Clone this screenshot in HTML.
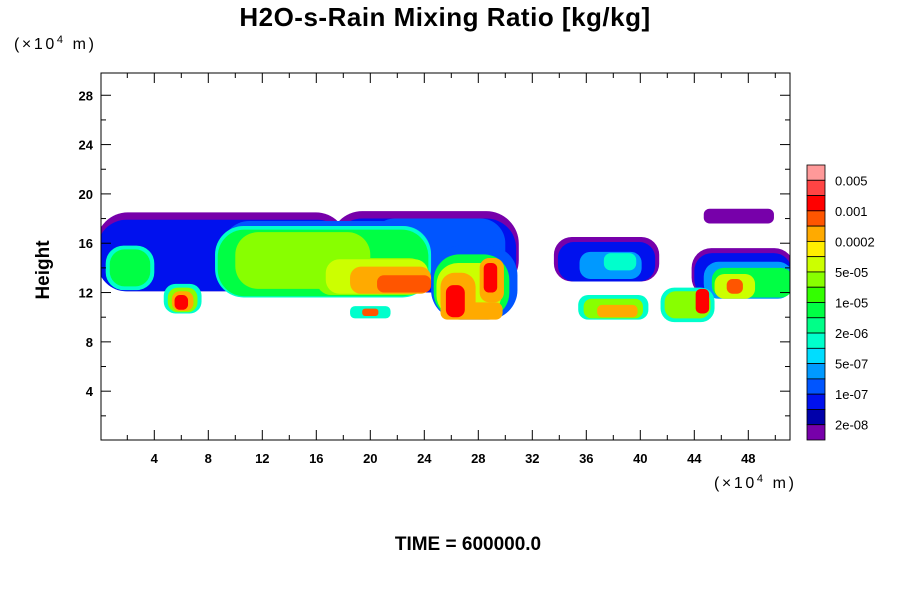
<!DOCTYPE html>
<html><head><meta charset="utf-8"><style>
body{margin:0;background:#fff;width:900px;height:600px;overflow:hidden}
svg{display:block}
text{font-family:"Liberation Sans",sans-serif}
</style></head><body>
<svg id="c" width="900" height="600" xmlns="http://www.w3.org/2000/svg">
<text x="445" y="26" text-anchor="middle" font-size="26" font-weight="bold" letter-spacing="0.5">H2O-s-Rain Mixing Ratio [kg/kg]</text>
<text x="14" y="49" font-size="16" letter-spacing="2.6">(×10<tspan dy="-6" font-size="11">4</tspan><tspan dy="6"> m)</tspan></text>
<text x="714" y="488" font-size="16" letter-spacing="2.6">(×10<tspan dy="-6" font-size="11">4</tspan><tspan dy="6"> m)</tspan></text>
<text transform="translate(49,270) rotate(-90)" text-anchor="middle" font-size="19" font-weight="bold">Height</text>
<text x="468" y="550" text-anchor="middle" font-size="19" font-weight="bold">TIME = 600000.0</text>
<g id="field"></g>
<g id="axes"></g>
<g id="cbar"></g>
</svg>
<script>
const levelColors=["#7700aa","#0000aa","#0011ee","#0055ff","#0099ff","#00ddff","#00ffcc","#00ff88","#00ff44","#33ff00","#88ff00","#ccff00","#ffee00","#ffaa00","#ff5500","#ff0000","#ff4444","#ff9999"];
const cbarLabels=["0.005","0.001","0.0002","5e-05","1e-05","2e-06","5e-07","1e-07","2e-08"];
const xTickLabels=[4,8,12,16,20,24,28,32,36,40,44,48];
const yTickLabels=[4,8,12,16,20,24,28];
// blobs: center x (1e4 m), center height, half-width, half-height, level index
const blobX=[9,24,9,24,17,25,17,16.5,16.5,15,20,20.5,21.5,22.5,2.2,2.2,27.7,27.5,27.3,26.5,29,26.3,28.9,27.5,6.1,6.1,6.1,6,20,20,37.5,37.5,37.8,38.5,38,38,38.3,43.5,43.5,44.6,47.6,47.6,48,48.3,47,47,47.3];
const blobY=[15.3,15.3,15,15,15,15.5,14.6,14.5,14.4,14.6,13.3,13.3,13,12.7,14,14,12.8,12.5,12.2,11.8,13,11.3,13.2,10.5,11.5,11.4,11.3,11.2,10.4,10.4,14.7,14.5,14.2,14.5,10.8,10.7,10.5,11,11,11.3,13.6,13.4,13,12.8,12.5,12.5,18.2];
const blobW=[9.3,7,9.2,6.8,8,5,7.5,8,7.8,5,4,3.8,3,2,1.8,1.5,3.2,2.8,2.4,1.3,0.9,0.7,0.5,2.3,1.4,1.1,0.8,0.5,1.5,0.6,3.9,3.6,2.3,1.2,2.6,2.2,1.5,2,1.7,0.5,3.8,3.6,3.3,3,1.5,0.6,2.6];
const blobH=[3.2,3.3,2.9,3,2.8,2.5,2.8,2.9,2.7,2.3,1.5,1.4,1.1,0.7,1.8,1.5,3,2.6,2.2,1.8,1.8,1.3,1.2,0.7,1.2,1,0.8,0.6,0.5,0.3,1.8,1.6,1.1,0.7,1,0.8,0.5,1.4,1.1,1,2,1.8,1.5,1.2,1,0.6,0.6];
const blobLev=[0,0,2,2,3,3,4,6,8,10,10,11,13,14,6,8,3,8,11,13,13,15,15,13,6,10,13,15,6,14,0,2,4,6,6,10,13,6,10,15,0,2,4,8,11,14,0];

const X0=101,X1=790,Y0=73,Y1=440;
const sx=v=>100.3+v*13.5;
const sy=v=>440.5-v*12.33;
const NS="http://www.w3.org/2000/svg";
function mk(tag,attrs,parent){const e=document.createElementNS(NS,tag);for(const k in attrs)e.setAttribute(k,attrs[k]);parent.appendChild(e);return e;}

const field=document.getElementById('field');
const clip=mk('clipPath',{id:'pc'},field);
mk('rect',{x:X0,y:Y0,width:X1-X0,height:Y1-Y0},clip);
const fg=mk('g',{'clip-path':'url(#pc)'},field);
const order=blobLev.map((l,i)=>i).sort((a,b)=>blobLev[a]-blobLev[b]||a-b);
for(const i of order){
  const wp=blobW[i]*13.5,hp=blobH[i]*12.33,r=Math.min(wp,hp)*0.8;
  const e=mk('rect',{x:sx(blobX[i])-wp,y:sy(blobY[i])-hp,width:2*wp,height:2*hp,rx:r,ry:r,fill:levelColors[blobLev[i]]},fg);
  
  
}

const axes=document.getElementById('axes');
const fr=mk('rect',{x:X0,y:Y0,width:X1-X0,height:Y1-Y0,fill:'none',stroke:'#000','stroke-width':1},axes);


for(let v=2;v<=50;v+=2){
  const x=sx(v),len=(v%4===0)?10:5;
  mk('line',{x1:x,y1:Y1,x2:x,y2:Y1-len,stroke:'#000'},axes);
  mk('line',{x1:x,y1:Y0,x2:x,y2:Y0+len,stroke:'#000'},axes);
}
for(let v=2;v<=28;v+=2){
  const y=sy(v),len=(v%4===0)?10:5;
  mk('line',{x1:X0,y1:y,x2:X0+len,y2:y,stroke:'#000'},axes);
  mk('line',{x1:X1,y1:y,x2:X1-len,y2:y,stroke:'#000'},axes);
}
xTickLabels.forEach(v=>{
  const t=mk('text',{x:sx(v),y:Y1+23,'text-anchor':'middle','font-size':13,'font-weight':'bold'},axes);
  t.textContent=v;
  
  
});
yTickLabels.forEach(v=>{
  const t=mk('text',{x:X0-8,y:sy(v)+5,'text-anchor':'end','font-size':13,'font-weight':'bold'},axes);
  t.textContent=v;
  
  
});

const cb=document.getElementById('cbar');
const CB0=165,CB1=440,bh=(CB1-CB0)/levelColors.length;
levelColors.forEach((c,i)=>{
  const lv=levelColors.length-1-i;
  const r=mk('rect',{x:807,y:CB0+i*bh,width:18,height:bh,fill:levelColors[lv],stroke:'#000','stroke-width':0.8},cb);
  
  
});
cbarLabels.forEach((s,i)=>{
  const t=mk('text',{x:835,y:CB0+(2*i+1)*bh+5,'font-size':13},cb);
  t.textContent=s;
  
  
});
</script>
</body></html>
